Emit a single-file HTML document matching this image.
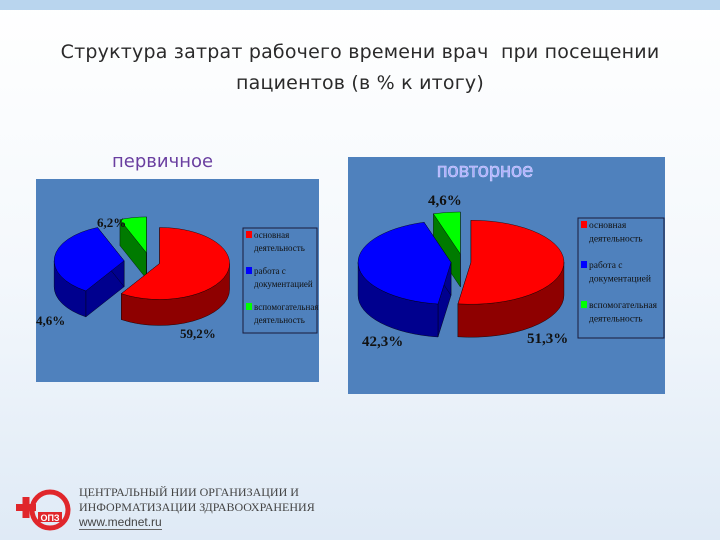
<!DOCTYPE html>
<html><head><meta charset="utf-8">
<style>
body{margin:0;width:720px;height:540px;overflow:hidden;font-family:"Liberation Sans",sans-serif;background:linear-gradient(#ffffff 0%,#f4f8fc 50%,#dfeaf6 100%);position:relative}
.t{position:absolute;left:0;width:720px;text-align:center;color:#2a2a2a;font-size:19px;font-family:"DejaVu Sans",sans-serif;letter-spacing:0.2px}
</style></head><body>
<div style="position:absolute;left:0;top:0;width:720px;height:10px;background:#b9d5ee"></div>
<div class="t" style="top:41px">Структура затрат рабочего времени врач&nbsp; при посещении</div>
<div class="t" style="top:72px">пациентов (в % к итогу)</div>
<div style="position:absolute;left:112px;top:151px;font-size:18px;color:#6a3fa0;font-family:'DejaVu Sans',sans-serif">первичное</div>
<svg id="s" width="720" height="540" style="position:absolute;left:0;top:0"></svg>
<div style="position:absolute;left:14px;top:482px;width:60px;height:50px">
<svg width="60" height="50"><circle cx="36" cy="28" r="18" fill="none" stroke="#e0262b" stroke-width="5"/><rect x="2" y="22" width="20" height="7" fill="#e0262b"/><rect x="8.5" y="15" width="7" height="21" fill="#e0262b"/><rect x="24" y="30" width="24" height="10" fill="#e0262b"/><text x="36" y="39" font-size="9" fill="#fff" text-anchor="middle" font-family="Liberation Sans" font-weight="bold">ОПЗ</text></svg></div>
<div style="position:absolute;left:79px;top:485px;font-size:12px;line-height:15px;color:#444;font-family:'Liberation Serif',serif">ЦЕНТРАЛЬНЫЙ НИИ ОРГАНИЗАЦИИ И<br>ИНФОРМАТИЗАЦИИ ЗДРАВООХРАНЕНИЯ<br><span style="font-family:'Liberation Sans';font-size:12px;border-bottom:1px solid #666">www.mednet.ru</span></div>
<script>
const cats=["основная деятельность","работа с документацией","вспомогательная деятельность"];
const primaryVals=[59.2,34.6,6.2];
const primaryLabels=["59,2%","4,6%","6,2%"];
const repeatVals=[51.3,42.3,4.6];
const repeatLabels=["51,3%","42,3%","4,6%"];
const tops=["#ff0000","#0000ff","#00ff00"],sides=["#8e0000","#00008e","#007a00"];
const svg=document.getElementById('s');const NS="http://www.w3.org/2000/svg";
function mk(t,a,p){const e=document.createElementNS(NS,t);for(const k in a)e.setAttribute(k,a[k]);(p||svg).appendChild(e);return e;}
function pie(o){
  mk('rect',{x:o.px,y:o.py,width:o.pw,height:o.ph,fill:"#4f81bd"});
  const tot=o.vals.reduce((a,b)=>a+b,0);let a0=0;const sl=[];
  o.vals.forEach((v,i)=>{const a1=a0+v/tot*360;sl.push({i,a0,a1,m:(a0+a1)/2});a0=a1;});
  const P=(cx,cy,t,dy)=>[cx+o.rx*Math.sin(t*Math.PI/180),cy-o.ry*Math.cos(t*Math.PI/180)+(dy||0)];
  sl.sort((a,b)=>(-Math.cos(a.m*Math.PI/180))-(-Math.cos(b.m*Math.PI/180)));
  sl.forEach(s=>{
    const g=mk('g',{});
    const mr=s.m*Math.PI/180,ex=o.ex[s.i];
    const cx=o.cx+ex*Math.sin(mr),cy=o.cy-ex*Math.cos(mr)*o.ry/o.rx,d=o.d;
    const c=[cx,cy],p0=P(cx,cy,s.a0),p1=P(cx,cy,s.a1);
    const face=(p)=>mk('path',{d:`M${c[0]},${c[1]}L${p[0]},${p[1]}L${p[0]},${p[1]+d}L${c[0]},${c[1]+d}Z`,fill:sides[s.i],stroke:"#000","stroke-width":0.4},g);
    face(p0);face(p1);
    for(const [lo,hi] of [[90,270],[450,630]]){
      const b0=Math.max(lo,s.a0),b1=Math.min(hi,s.a1);
      if(b1>b0){const q0=P(cx,cy,b0),q1=P(cx,cy,b1);const lg=(b1-b0)>180?1:0;
        mk('path',{d:`M${q0[0]},${q0[1]}A${o.rx},${o.ry} 0 ${lg} 1 ${q1[0]},${q1[1]}L${q1[0]},${q1[1]+d}A${o.rx},${o.ry} 0 ${lg} 0 ${q0[0]},${q0[1]+d}Z`,fill:sides[s.i],stroke:"#000","stroke-width":0.4},g);}
    }
    const lg=(s.a1-s.a0)>180?1:0;
    mk('path',{d:`M${cx},${cy}L${p0[0]},${p0[1]}A${o.rx},${o.ry} 0 ${lg} 1 ${p1[0]},${p1[1]}Z`,fill:tops[s.i],stroke:"#000","stroke-width":0.4},g);
  });
  o.labels.forEach((l,i)=>{const t=mk('text',{x:o.lp[i][0],y:o.lp[i][1],"font-family":"Liberation Serif","font-weight":"bold","font-size":o.fs,fill:"#111"});t.textContent=l;});
  const L=o.leg;mk('rect',{x:L[0],y:L[1],width:L[2],height:L[3],fill:"none",stroke:"#1a1a3a","stroke-width":1});
  cats.forEach((cn,i)=>{const y=L[1]+10+i*L[4];mk('rect',{x:L[0]+3,y:y-7,width:6,height:7,fill:tops[i]});
    const w=cn.split(' ');const tx=mk('text',{x:L[0]+11,y:y,"font-family":"Liberation Serif","font-size":o.lfs,fill:"#111"});
    
    const a=mk('tspan',{x:L[0]+11},tx);a.textContent=i==1?'работа с':w[0];const b=mk('tspan',{x:L[0]+11,dy:o.lfs+4},tx);b.textContent=i==1?'документацией':w.slice(1).join(' ');});
}
pie({name:"primary",px:36,py:179,pw:283,ph:203,vals:primaryVals,labels:primaryLabels,cx:150,cy:262,rx:70,ry:36,d:26,ex:[10,26,18],lp:[[180,338],[36,325],[97,227]],fs:13,leg:[243,228,74,105,36],lfs:9});
pie({name:"repeat",px:348,py:157,pw:317,ph:237,vals:repeatVals,labels:repeatLabels,cx:463,cy:262,rx:93,ry:42,d:33,ex:[8,12,18],lp:[[527,343],[362,346],[428,205]],fs:15,leg:[578,218,86,120,40],lfs:9.5});
const t=mk('text',{x:485,y:177,"text-anchor":"middle","font-family":"Liberation Sans","font-size":20,fill:"#a9aaff",stroke:"#d8d8ff","stroke-width":0.5});t.textContent="повторное";
</script>
</body></html>
